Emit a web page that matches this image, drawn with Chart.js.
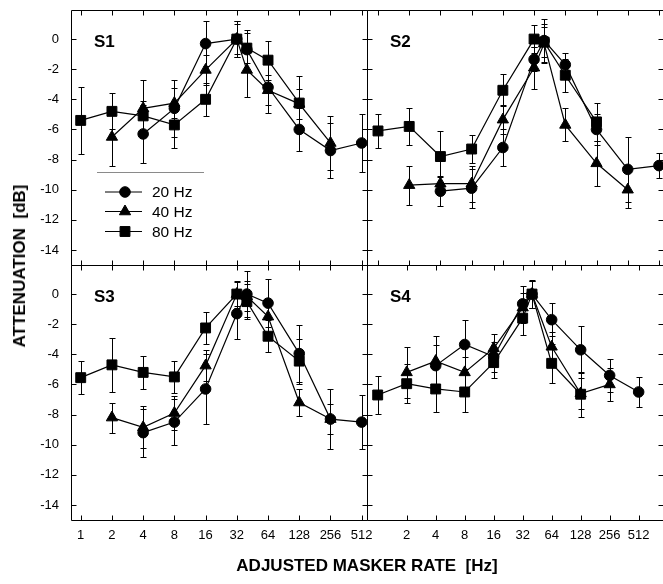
<!DOCTYPE html>
<html>
<head>
<meta charset="utf-8">
<script src="https://cdn.jsdelivr.net/npm/chart.js@4.4.0/dist/chart.umd.min.js"></script>
<style>
  body { margin: 0; background: #fff; }
  #wrap { position: relative; width: 663px; height: 584px; overflow: hidden; font-family: "Liberation Sans", Arial, sans-serif; }
  #wrap canvas { position: absolute; left: 0; top: 0; }
  .ytitle { position: absolute; left: 20px; top: 266px; transform: translate(-50%, -50%) rotate(-90deg); font-weight: bold; font-size: 17px; white-space: pre; }
  .xtitle { position: absolute; left: 367px; top: 566px; transform: translate(-50%, -50%); font-weight: bold; font-size: 17px; white-space: pre; }
</style>
</head>
<body>
<div id="wrap">
  <canvas id="c1" width="663" height="584"></canvas>
  <canvas id="c2" width="663" height="584"></canvas>
  <canvas id="c3" width="663" height="584"></canvas>
  <canvas id="c4" width="663" height="584"></canvas>
  <div class="ytitle">ATTENUATION  [dB]</div>
  <div class="xtitle">ADJUSTED MASKER RATE  [Hz]</div>
</div>
<script>
// masker rates (Hz) for each modulation frequency
const rates20 = [4, 8, 16, 32, 40, 64, 128, 256, 512];
const rates40 = [2, 4, 8, 16, 32, 40, 64, 128, 256];
const rates80 = [1, 2, 4, 8, 16, 32, 40, 64, 128];
const rateTicks = [1, 2, 4, 8, 16, 32, 64, 128, 256, 512];
const dbTicks = [0, -2, -4, -6, -8, -10, -12, -14];

// S1
const s1_20 = [-6.3, -4.6, -0.3, 0, -0.7, -3.2, -6.0, -7.4, -6.9];
const s1_20err = [1.9, 1.9, 1.5, 1.2, 1.3, 1.7, 1.4, 1.8, 1.9];
const s1_40 = [-6.5, -4.6, -4.25, -2.05, 0, -2.05, -3.4, -4.3, -6.9];
const s1_40err = [1.9, 1.9, 1.0, 1.0, 1.0, 1.8, 1.0, 1.0, 1.8];
const s1_80 = [-5.4, -4.8, -5.1, -5.7, -4.0, 0, -0.6, -1.4, -4.25];
const s1_80err = [2.2, 1.2, 1.0, 1.5, 1.1, 1.2, 1.0, 1.3, 1.8];

// S2
const s2_20 = [-10.1, -9.9, -7.2, -1.35, -0.1, -1.7, -6.0, -8.65, -8.4];
const s2_20err = [0.95, 1.3, 1.2, 0.8, 1.4, 0.8, 1.0, 2.15, 0.85];
const s2_40 = [-9.7, -9.6, -9.6, -5.35, -1.9, -0.3, -5.7, -8.25, -10.0];
const s2_40err = [1.3, 0.5, 1.2, 0.95, 1.4, 1.3, 1.1, 1.5, 1.2];
const s2_80 = [-6.1, -5.8, -7.8, -7.3, -3.4, 0, -0.2, -2.4, -5.5];
const s2_80err = [1.15, 1.25, 1.7, 0.95, 1.05, 0.95, 1.0, 1.1, 1.25];

// S3
const s3_20 = [-9.2, -8.5, -6.3, -1.3, 0, -0.6, -3.95, -8.3, -8.5];
const s3_20err = [1.6, 1.55, 2.3, 1.65, 1.5, 1.6, 1.9, 2.0, 1.8];
const s3_40 = [-8.2, -8.85, -7.9, -4.75, 0, -0.15, -1.5, -7.2, -8.3];
const s3_40err = [1.0, 1.4, 1.1, 1.05, 0.9, 1.0, 1.0, 0.9, 1.0];
const s3_80 = [-5.55, -4.7, -5.2, -5.5, -2.25, 0, -0.5, -2.8, -4.45];
const s3_80err = [1.1, 1.8, 1.1, 1.05, 1.05, 0.8, 1.15, 1.05, 1.5];

// S4
const s4_20 = [-4.75, -3.35, -4.15, -0.65, 0, -1.7, -3.7, -5.4, -6.5];
const s4_20err = [1.4, 1.6, 1.0, 1.2, 0.9, 1.1, 1.55, 1.1, 1.0];
const s4_40 = [-5.2, -4.45, -5.2, -3.6, -0.9, 0, -3.5, -6.6, -6.0];
const s4_40err = [1.7, 1.65, 1.0, 0.95, 1.0, 0.9, 1.0, 1.0, 1.1];
const s4_80 = [-6.7, -5.95, -6.3, -6.5, -4.55, -1.6, 0, -4.6, -6.65];
const s4_80err = [1.25, 1.3, 1.5, 1.35, 1.05, 1.15, 0.95, 1.3, 1.5];

const W = 663, H = 584;
const FONT = "'Liberation Sans', Arial, sans-serif";
Chart.defaults.color = '#000';
Chart.defaults.font.family = FONT;

function series(label, rates, vals, errs, style, radius, order) {
  return {
    label,
    data: rates.map((r, i) => ({ x: Math.log2(r), y: vals[i] })),
    err: errs,
    pointStyle: style,
    pointRadius: radius,
    pointBackgroundColor: '#000',
    pointBorderColor: '#000',
    pointBorderWidth: 1,
    borderColor: '#000',
    backgroundColor: '#000',
    borderWidth: 1.2,
    tension: 0,
    clip: false,
    order
  };
}

function subject(v20, e20, v40, e40, v80, e80) {
  return [
    series('20 Hz', rates20, v20, e20, 'circle', 5.3, 2),
    series('40 Hz', rates40, v40, e40, 'triangle', 6.5, 1),
    series('80 Hz', rates80, v80, e80, 'rect', 7, 0)
  ];
}

// error bars with small caps, under the lines
const errorBars = {
  id: 'errorBars',
  beforeDatasetsDraw(chart) {
    const ctx = chart.ctx, ys = chart.scales.y;
    ctx.save();
    ctx.strokeStyle = '#000';
    ctx.lineWidth = 1;
    chart.data.datasets.forEach((ds, i) => {
      chart.getDatasetMeta(i).data.forEach((pt, j) => {
        const v = ds.data[j].y, e = ds.err[j];
        const x = Math.round(pt.x) + 0.5;
        const y1 = Math.round(ys.getPixelForValue(v + e)) + 0.5;
        const y2 = Math.round(ys.getPixelForValue(v - e)) + 0.5;
        ctx.beginPath();
        ctx.moveTo(x, y1); ctx.lineTo(x, y2);
        ctx.moveTo(x - 3, y1); ctx.lineTo(x + 3, y1);
        ctx.moveTo(x - 3, y2); ctx.lineTo(x + 3, y2);
        ctx.stroke();
      });
    });
    ctx.restore();
  }
};

// frame with inward ticks on all four sides
const frame = {
  id: 'frame',
  afterDraw(chart, args, opts) {
    const ctx = chart.ctx, a = chart.chartArea;
    const xs = chart.scales.x, ys = chart.scales.y;
    const L = Math.round(a.left) + 0.5, R = Math.round(a.right) + 0.5;
    const T = Math.round(a.top) + 0.5, B = Math.round(a.bottom) + 0.5;
    ctx.save();
    ctx.strokeStyle = '#000';
    ctx.lineWidth = 1;
    ctx.beginPath();
    ctx.rect(L, T, R - L, B - T);
    opts.xTicks.forEach(r => {
      const x = Math.round(xs.getPixelForValue(Math.log2(r))) + 0.5;
      ctx.moveTo(x, T); ctx.lineTo(x, T + 5);
      ctx.moveTo(x, B); ctx.lineTo(x, B - 5);
    });
    dbTicks.forEach(v => {
      const y = Math.round(ys.getPixelForValue(v)) + 0.5;
      ctx.moveTo(L, y); ctx.lineTo(L + 5, y);
      ctx.moveTo(R, y); ctx.lineTo(R - 5, y);
    });
    ctx.stroke();

    ctx.font = 'bold 17px ' + FONT;
    ctx.fillStyle = '#000';
    ctx.textBaseline = 'alphabetic';
    ctx.fillText(opts.name, a.left + 23, a.top + 37);
    ctx.restore();
  }
};

// boxed legend in the S1 panel
const keyBox = {
  id: 'keyBox',
  afterDatasetsDraw(chart, args, opts) {
    if (!opts.show) return;
    const ctx = chart.ctx;
    ctx.save();
    ctx.strokeStyle = '#8a8a8a';
    ctx.lineWidth = 1;
    ctx.beginPath();
    ctx.moveTo(97, 172.5); ctx.lineTo(204, 172.5);
    ctx.stroke();
    const rows = [192, 211.5, 231.5];
    ctx.font = '15.5px ' + FONT;
    ctx.textBaseline = 'middle';
    chart.data.datasets.forEach((ds, i) => {
      const y = rows[i];
      ctx.strokeStyle = '#000';
      ctx.fillStyle = '#000';
      ctx.lineWidth = 1.2;
      ctx.beginPath();
      ctx.moveTo(105, y); ctx.lineTo(142, y);
      ctx.stroke();
      ctx.lineWidth = 1;
      Chart.helpers.drawPoint(ctx, { pointStyle: ds.pointStyle, radius: ds.pointRadius, borderWidth: 1, rotation: 0 }, 125, y);
      ctx.fillText(ds.label, 152, y + 1);
    });
    ctx.restore();
  }
};

const panels = [
  { id: 'c1', name: 'S1', box: [71, 10, 367, 265], xr: [-0.311, 9.17], xTicks: rateTicks, xLabels: null, yLabels: true, key: true,
    sets: subject(s1_20, s1_20err, s1_40, s1_40err, s1_80, s1_80err) },
  { id: 'c2', name: 'S2', box: [367, 10, 663, 265], xr: [-0.352, 9.13], xTicks: rateTicks, xLabels: null, yLabels: false, key: false,
    sets: subject(s2_20, s2_20err, s2_40, s2_40err, s2_80, s2_80err) },
  { id: 'c3', name: 'S3', box: [71, 265, 367, 520], xr: [-0.311, 9.17], xTicks: rateTicks, xLabels: rateTicks, yLabels: true, key: false,
    sets: subject(s3_20, s3_20err, s3_40, s3_40err, s3_80, s3_80err) },
  { id: 'c4', name: 'S4', box: [367, 265, 663, 520], xr: [-0.369, 9.84], xTicks: rateTicks.slice(1), xLabels: rateTicks.slice(1), yLabels: false, key: false,
    sets: subject(s4_20, s4_20err, s4_40, s4_40err, s4_80, s4_80err) }
];

const yW = 50, xH = 34;

function noPad(s) {
  s.paddingLeft = 0; s.paddingRight = 0; s.paddingTop = 0; s.paddingBottom = 0;
}

panels.forEach(p => {
  const [l, t, r, b] = p.box;
  new Chart(document.getElementById(p.id), {
    type: 'line',
    data: { datasets: p.sets },
    options: {
      responsive: false,
      animation: false,
      devicePixelRatio: 1,
      layout: {
        autoPadding: false,
        padding: {
          left: p.yLabels ? l - yW : l,
          top: t,
          right: W - r,
          bottom: p.xLabels ? H - b - xH : H - b
        }
      },
      plugins: {
        legend: { display: false },
        tooltip: { enabled: false },
        frame: { name: p.name, xTicks: p.xTicks },
        keyBox: { show: p.key }
      },
      scales: {
        x: {
          type: 'linear',
          min: p.xr[0],
          max: p.xr[1],
          display: !!p.xLabels,
          grid: { display: false, drawTicks: false },
          border: { display: false },
          ticks: {
            font: { size: 13 },
            padding: 8,
            maxRotation: 0,
            autoSkip: false,
            callback: v => String(Math.round(Math.pow(2, v)))
          },
          afterBuildTicks: s => { if (p.xLabels) s.ticks = p.xLabels.map(r => ({ value: Math.log2(r) })); },
          afterFit: s => { s.height = p.xLabels ? xH : 0; noPad(s); }
        },
        y: {
          type: 'linear',
          min: -15,
          max: 1.93,
          display: p.yLabels,
          grid: { display: false, drawTicks: false },
          border: { display: false },
          ticks: { font: { size: 13 }, padding: 12, autoSkip: false },
          afterBuildTicks: s => { s.ticks = dbTicks.map(v => ({ value: v })); },
          afterFit: s => { s.width = p.yLabels ? yW : 0; noPad(s); }
        }
      }
    },
    plugins: [errorBars, frame, keyBox]
  });
});
</script>
</body>
</html>
